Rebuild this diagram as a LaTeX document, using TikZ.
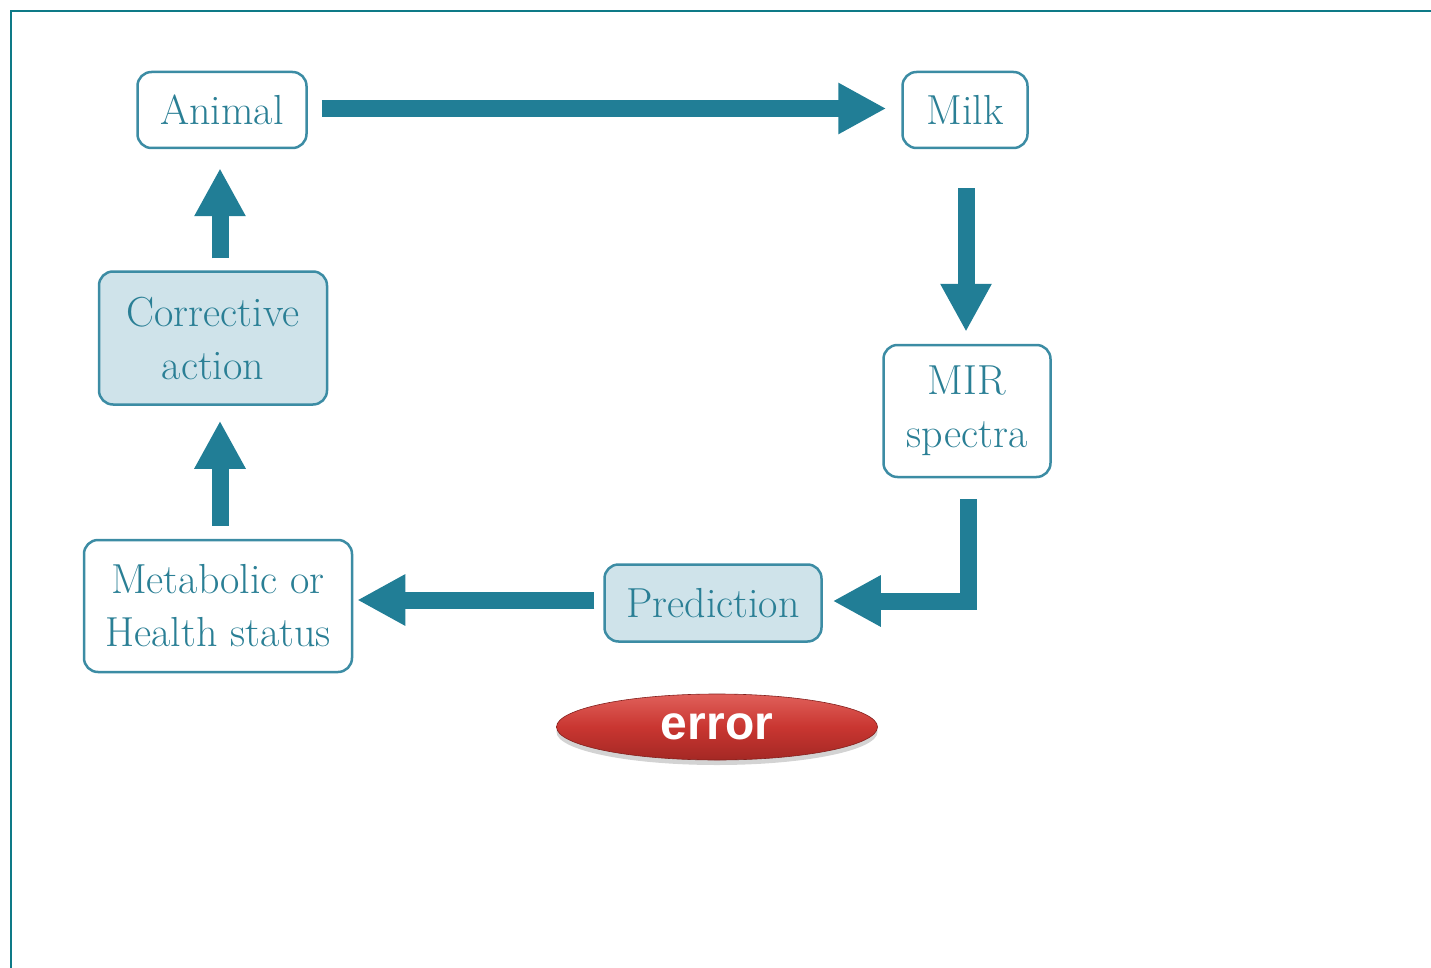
\documentclass[tikz,border=0pt]{standalone}
\usepackage{fontspec}
\newfontfamily\errfont{Liberation Sans}
\usetikzlibrary{arrows.meta,shapes.geometric,shadows}
\definecolor{frame}{HTML}{0E7A87}
\definecolor{arrowc}{HTML}{217E96}
\definecolor{boxline}{HTML}{3C8CA4}
\definecolor{boxtext}{HTML}{2A7F95}
\definecolor{boxfill}{HTML}{CFE3EA}
\definecolor{redtop}{HTML}{E0605A}
\definecolor{redmid}{HTML}{C93631}
\definecolor{redbot}{HTML}{A42824}
\tikzset{
  box/.style={draw=boxline, line width=2.5pt, rounded corners=14pt, fill=white,
    text=boxtext, align=center, inner sep=0pt,
    font=\fontsize{42}{53}\selectfont},
  fbox/.style={box, fill=boxfill},
  arr/.style={draw=arrowc, line width=17pt, line join=miter,
    -{Triangle[width=48pt,length=48pt]}}
}
\begin{document}
\begin{tikzpicture}[x=1pt,y=-1pt]
\useasboundingbox (0,0) rectangle (1431,968);
\draw[frame, line width=2.8pt] (11,968) -- (11,11) -- (1431,11);

\node[box, minimum width=169pt, minimum height=76pt] (animal) at (222,110) {Animal};
\node[box, minimum width=125pt, minimum height=76pt] (milk) at (965,110) {Milk};
\node[box, minimum width=167pt, minimum height=132pt] (mir) at (967,411) {MIR\\spectra};
\node[fbox, minimum width=217pt, minimum height=77pt] (pred) at (713,603) {Prediction};
\node[box, minimum width=268pt, minimum height=132pt] (meta) at (218,606) {Metabolic or\\Health status};
\node[fbox, minimum width=228pt, minimum height=133pt] (corr) at (213,338) {Corrective\\action};

\node[ellipse, minimum width=321pt, minimum height=66pt, inner sep=0pt,
  top color=redtop, bottom color=redbot, middle color=redmid,
  draw=redbot!80!black, line width=0.6pt,
  drop shadow={shadow xshift=0pt, shadow yshift=-5pt, opacity=0.35},
  text=white, font=\errfont\bfseries\fontsize{48}{50}\selectfont] (err) at (717,727) {error};

\draw[arr, shorten <=14pt, shorten >=15pt] ([yshift=1.5pt]animal.east) -- ([yshift=1.5pt]milk.west);
\draw[arr, shorten <=39pt, shorten >=12pt] ([xshift=1pt]milk.south) -- ([xshift=1pt]milk.south |- mir.north);
\draw[arr, shorten <=21pt, shorten >=10pt] ([xshift=1pt]mir.south) |- ([yshift=2pt]pred.east);
\draw[arr, shorten <=9pt, shorten >=4pt] ([yshift=3pt]pred.west) -- ([yshift=3pt]pred.west -| meta.east);
\draw[arr, shorten <=13pt, shorten >=15pt] ([xshift=2pt]meta.north) -- ([xshift=2pt]meta.north |- corr.south);
\draw[arr, shorten <=12pt, shorten >=19pt] ([xshift=7pt]corr.north) -- ([xshift=7pt]corr.north |- animal.south);
\end{tikzpicture}
\end{document}
